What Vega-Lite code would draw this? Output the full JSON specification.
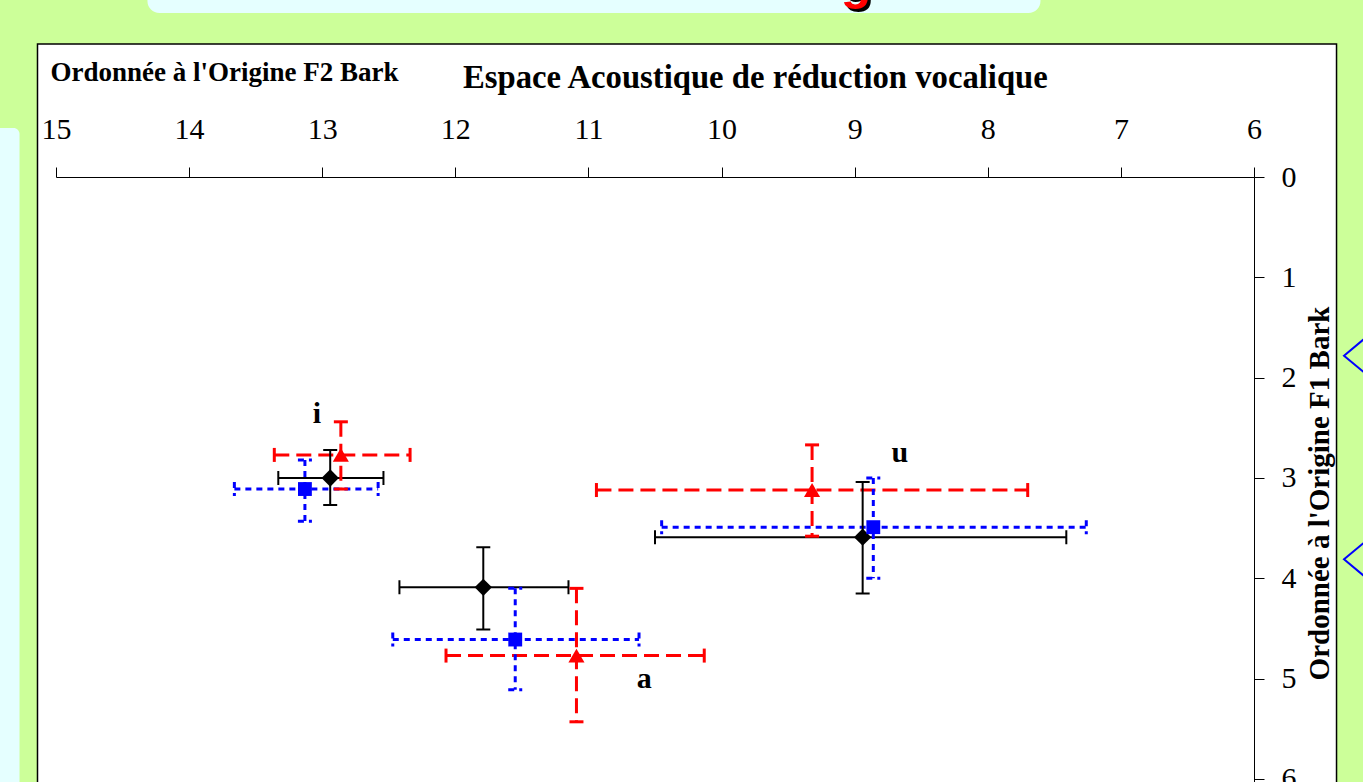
{
  "$schema": "https://vega.github.io/schema/vega-lite/v6.json",
  "width": 1198,
  "height": 605,
  "autosize": {"type": "none"},
  "padding": {"left": 56, "top": 177, "right": 109, "bottom": 0},
  "background": "#CCFF99",
  "title": {
    "text": "Espace Acoustique de réduction vocalique",
    "anchor": "start",
    "frame": "group",
    "dx": 407,
    "dy": 140,
    "zindex": 2,
    "font": "Liberation Serif",
    "fontSize": 32.7,
    "fontWeight": "bold",
    "color": "#000000"
  },
  "datasets": {
    "moyennes": [
      {"serie": "1", "voyelle": "i", "f2": 12.94, "f2_min": 13.33, "f2_max": 12.54, "f1": 3.00, "f1_min": 2.72, "f1_max": 3.27},
      {"serie": "1", "voyelle": "a", "f2": 11.79, "f2_min": 12.42, "f2_max": 11.15, "f1": 4.09, "f1_min": 3.69, "f1_max": 4.51},
      {"serie": "1", "voyelle": "u", "f2": 8.94, "f2_min": 10.50, "f2_max": 7.41, "f1": 3.59, "f1_min": 3.04, "f1_max": 4.15},
      {"serie": "2", "voyelle": "i", "f2": 13.13, "f2_min": 13.66, "f2_max": 12.58, "f1": 3.11, "f1_min": 2.82, "f1_max": 3.43},
      {"serie": "2", "voyelle": "a", "f2": 11.55, "f2_min": 12.47, "f2_max": 10.62, "f1": 4.61, "f1_min": 4.10, "f1_max": 5.11},
      {"serie": "2", "voyelle": "u", "f2": 8.86, "f2_min": 10.45, "f2_max": 7.26, "f1": 3.49, "f1_min": 3.00, "f1_max": 4.00},
      {"serie": "3", "voyelle": "i", "f2": 12.86, "f2_min": 13.36, "f2_max": 12.34, "f1": 2.77, "f1_min": 2.44, "f1_max": 3.11},
      {"serie": "3", "voyelle": "a", "f2": 11.09, "f2_min": 12.07, "f2_max": 10.13, "f1": 4.77, "f1_min": 4.10, "f1_max": 5.43},
      {"serie": "3", "voyelle": "u", "f2": 9.32, "f2_min": 10.94, "f2_max": 7.70, "f1": 3.12, "f1_min": 2.67, "f1_max": 3.58}
    ],
    "voyelles": [
      {"voyelle": "i", "f2": 13.04, "f1": 2.455},
      {"voyelle": "a", "f2": 10.58, "f1": 5.096},
      {"voyelle": "u", "f2": 8.66, "f1": 2.844}
    ],
    "unique": [{}]
  },
  "layer": [
    {
      "data": {"name": "unique"},
      "mark": {"type": "rect", "fill": "#E5FFFF", "cornerRadius": 12},
      "encoding": {
        "x": {"datum": 14.313, "type": "quantitative"},
        "x2": {"datum": 7.604},
        "y": {"datum": -2.0, "type": "quantitative"},
        "y2": {"datum": -1.635}
      }
    },
    {
      "data": {"name": "unique"},
      "mark": {"type": "rect", "fill": "#E5FFFF", "cornerRadius": 6},
      "encoding": {
        "x": {"datum": 15.6, "type": "quantitative"},
        "x2": {"datum": 15.274},
        "y": {"datum": -0.488, "type": "quantitative"},
        "y2": {"datum": 6.5}
      }
    },
    {
      "data": {"name": "unique"},
      "mark": {"type": "text", "text": "g", "font": "Liberation Sans", "fontSize": 50, "fontWeight": "bold", "color": "#000000", "align": "center", "baseline": "alphabetic", "dx": 3, "dy": 3},
      "encoding": {
        "x": {"datum": 8.99, "type": "quantitative"},
        "y": {"datum": -1.774, "type": "quantitative"}
      }
    },
    {
      "data": {"name": "unique"},
      "mark": {"type": "text", "text": "g", "font": "Liberation Sans", "fontSize": 50, "fontWeight": "bold", "color": "#FF0000", "align": "center", "baseline": "alphabetic"},
      "encoding": {
        "x": {"datum": 8.99, "type": "quantitative"},
        "y": {"datum": -1.774, "type": "quantitative"}
      }
    },
    {
      "data": {"name": "unique"},
      "mark": {"type": "point", "shape": "M0.2,-1L-1,0L0.2,1", "filled": false, "stroke": "#0000FF", "strokeWidth": 2, "size": 1444, "opacity": 1},
      "encoding": {
        "x": {"datum": 5.181, "type": "quantitative"},
        "y": {"datum": 1.781, "type": "quantitative"}
      }
    },
    {
      "data": {"name": "unique"},
      "mark": {"type": "point", "shape": "M0.2,-1L-1,0L0.2,1", "filled": false, "stroke": "#0000FF", "strokeWidth": 2, "size": 1444, "opacity": 1},
      "encoding": {
        "x": {"datum": 5.181, "type": "quantitative"},
        "y": {"datum": 3.81, "type": "quantitative"}
      }
    },
    {
      "data": {"name": "unique"},
      "mark": {"type": "rect", "fill": "#FFFFFF", "stroke": "#000000", "strokeWidth": 1.5},
      "encoding": {
        "x": {"datum": 15.139, "type": "quantitative"},
        "x2": {"datum": 5.38},
        "y": {"datum": -1.326, "type": "quantitative"},
        "y2": {"datum": 6.5}
      }
    },
    {
      "data": {"name": "moyennes"},
      "mark": {"type": "rule"},
      "encoding": {
        "x": {
          "field": "f2_min",
          "type": "quantitative",
          "scale": {"domain": [6, 15], "reverse": true, "nice": false, "zero": false},
          "axis": {
            "orient": "top",
            "zindex": 1,
            "values": [6, 7, 8, 9, 10, 11, 12, 13, 14, 15],
            "format": "d",
            "title": "Ordonnée à l'Origine F2 Bark",
            "titleX": -6,
            "titleY": -97,
            "titleAlign": "left",
            "titleBaseline": "alphabetic",
            "titleFontSize": 27,
            "labelBaseline": "alphabetic",
            "labelPadding": 29
          }
        },
        "x2": {"field": "f2_max"},
        "y": {
          "field": "f1",
          "type": "quantitative",
          "scale": {"domain": [0, 6.03], "reverse": true, "nice": false, "zero": false},
          "axis": {
            "orient": "right",
            "zindex": 1,
            "values": [0, 1, 2, 3, 4, 5, 6],
            "format": "d",
            "title": "Ordonnée à l'Origine F1 Bark",
            "titleAngle": 270,
            "titleX": 65,
            "titleY": 316,
            "titleAlign": "center",
            "titleBaseline": "middle",
            "titleFontSize": 29,
            "labelAlign": "left",
            "labelBaseline": "middle",
            "labelPadding": 17
          }
        },
        "color": {"field": "serie", "type": "nominal", "scale": {"domain": ["1", "2", "3"], "range": ["#000000", "#0000FF", "#FF0000"]}, "legend": null},
        "strokeDash": {"field": "serie", "type": "nominal", "scale": {"domain": ["1", "2", "3"], "range": [[1, 0], [6, 5], [15, 7]]}, "legend": null},
        "strokeWidth": {"condition": {"test": "datum.serie === '1'", "value": 2}, "value": 3}
      }
    },
    {
      "data": {"name": "moyennes"},
      "mark": {"type": "rule"},
      "encoding": {
        "x": {"field": "f2", "type": "quantitative"},
        "y": {"field": "f1_min", "type": "quantitative"},
        "y2": {"field": "f1_max"},
        "color": {"field": "serie", "type": "nominal", "legend": null},
        "strokeDash": {"field": "serie", "type": "nominal", "legend": null},
        "strokeWidth": {"condition": {"test": "datum.serie === '1'", "value": 2}, "value": 3}
      }
    },
    {
      "data": {"name": "moyennes"},
      "transform": [{"fold": ["f2_min", "f2_max"], "as": ["borne", "f2_borne"]}],
      "mark": {"type": "rule", "yOffset": -7, "y2Offset": 7},
      "encoding": {
        "x": {"field": "f2_borne", "type": "quantitative"},
        "y": {"field": "f1", "type": "quantitative"},
        "y2": {"field": "f1"},
        "color": {"field": "serie", "type": "nominal", "legend": null},
        "strokeDash": {"field": "serie", "type": "nominal", "legend": null},
        "strokeWidth": {"condition": {"test": "datum.serie === '1'", "value": 2}, "value": 3}
      }
    },
    {
      "data": {"name": "moyennes"},
      "transform": [{"fold": ["f1_min", "f1_max"], "as": ["borne", "f1_borne"]}],
      "mark": {"type": "rule", "xOffset": -7, "x2Offset": 7},
      "encoding": {
        "x": {"field": "f2", "type": "quantitative"},
        "x2": {"field": "f2"},
        "y": {"field": "f1_borne", "type": "quantitative"},
        "color": {"field": "serie", "type": "nominal", "legend": null},
        "strokeDash": {"field": "serie", "type": "nominal", "legend": null},
        "strokeWidth": {"condition": {"test": "datum.serie === '1'", "value": 2}, "value": 3}
      }
    },
    {
      "data": {"name": "moyennes"},
      "mark": {"type": "point", "filled": true, "opacity": 1, "size": 300},
      "encoding": {
        "x": {"field": "f2", "type": "quantitative"},
        "y": {"field": "f1", "type": "quantitative"},
        "color": {"field": "serie", "type": "nominal", "legend": null},
        "shape": {
          "field": "serie",
          "type": "nominal",
          "scale": {
            "domain": ["1", "2", "3"],
            "range": ["M-1,0L0,-1L1,0L0,1Z", "M-0.8,-0.8L0.8,-0.8L0.8,0.8L-0.8,0.8Z", "M0,-0.8L0.93,0.8L-0.93,0.8Z"]
          },
          "legend": null
        }
      }
    },
    {
      "data": {"name": "voyelles"},
      "mark": {"type": "text", "font": "Liberation Serif", "fontSize": 30, "fontWeight": "bold", "color": "#000000", "align": "center", "baseline": "alphabetic"},
      "encoding": {
        "x": {"field": "f2", "type": "quantitative"},
        "y": {"field": "f1", "type": "quantitative"},
        "text": {"field": "voyelle"}
      }
    }
  ],
  "config": {
    "view": {"stroke": null},
    "axis": {
      "grid": false,
      "domainColor": "#000000",
      "domainWidth": 1,
      "tickColor": "#000000",
      "tickWidth": 1,
      "tickSize": 10,
      "labelColor": "#000000",
      "labelFont": "Liberation Serif",
      "labelFontSize": 30,
      "labelFlush": false,
      "labelOverlap": false,
      "labelBound": false,
      "titleColor": "#000000",
      "titleFont": "Liberation Serif",
      "titleFontWeight": "bold"
    }
  }
}
